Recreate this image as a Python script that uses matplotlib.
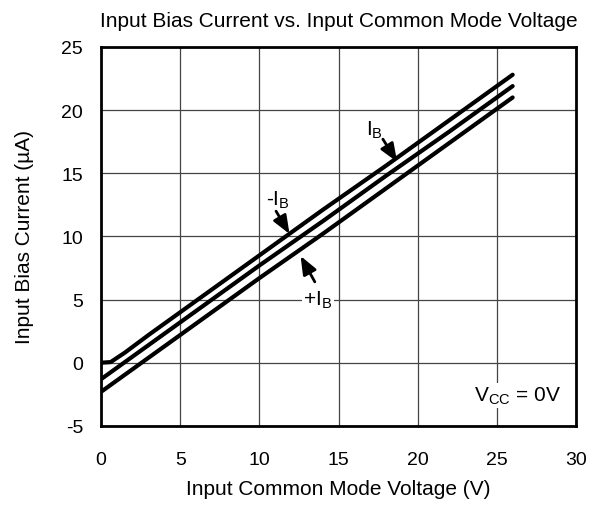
import matplotlib.pyplot as plt

plt.rcParams['font.family'] = ['Liberation Sans', 'DejaVu Sans']
plt.rcParams['axes.unicode_minus'] = False

# data
vcm_neg = [0, 0.6, 1.5, 3, 6, 10, 14, 18, 22, 26]
ib_neg = [0, 0.05, 0.8, 2.2, 4.9, 8.5, 12.1, 15.6, 19.2, 22.8]
vcm_mid = [0, 2, 6, 10, 14, 18, 22, 26]
ib_mid = [-1.3, 0.5, 4.1, 7.7, 11.2, 14.8, 18.3, 21.9]
vcm_pos = [0, 2, 6, 10, 14, 18, 22, 26]
ib_pos = [-2.3, -0.5, 3.1, 6.7, 10.2, 13.8, 17.4, 21.0]

fig = plt.figure(figsize=(5.95, 5.1), dpi=100)
ax = fig.add_axes([0.170, 0.163, 0.798, 0.743])

ax.plot(vcm_neg, ib_neg, color='black', lw=3, solid_capstyle='round', zorder=3)
ax.plot(vcm_mid, ib_mid, color='black', lw=3, solid_capstyle='round', zorder=3)
ax.plot(vcm_pos, ib_pos, color='black', lw=3, solid_capstyle='round', zorder=3)

ax.set_xlim(0, 30)
ax.set_ylim(-5, 25)
ax.set_xticks(range(0, 31, 5))
ax.set_yticks(range(-5, 26, 5))
ax.grid(True, color='#444444', lw=0.9)
for s in ax.spines.values():
    s.set_linewidth(2)
ax.tick_params(length=0, labelsize=14)
ax.tick_params(axis='x', pad=18)
ax.tick_params(axis='y', pad=13)

ax.set_title('Input Bias Current vs. Input Common Mode Voltage', fontsize=15, pad=15)
ax.set_xlabel('Input Common Mode Voltage (V)', fontsize=15, labelpad=8)
ax.set_ylabel('Input Bias Current (\u00b5A)', fontsize=15, labelpad=20)

arr = dict(arrowstyle='-|>,head_length=0.55,head_width=0.22', color='black', lw=2,
           mutation_scale=20, shrinkA=0, shrinkB=0)
box = dict(facecolor='white', edgecolor='none', pad=1)

# labels
ax.text(11.2, 12.9, '-I$\\mathregular{_B}$', fontsize=15, ha='center', va='center', bbox=box, zorder=4)
ax.text(17.3, 18.5, 'I$\\mathregular{_B}$', fontsize=15, ha='center', va='center', bbox=box, zorder=4)
ax.text(13.7, 5.0, '+I$\\mathregular{_B}$', fontsize=15, ha='center', va='center', bbox=box, zorder=4)
ax.text(26.3, -2.6, 'V$\\mathregular{_{CC}}$ = 0V', fontsize=15, ha='center', va='center',
        bbox=box, zorder=4)

# arrows
ax.annotate('', xy=(11.9, 10.2), xytext=(11.05, 12.0), arrowprops=arr, zorder=5)
ax.annotate('', xy=(18.7, 15.9), xytext=(17.8, 17.7), arrowprops=arr, zorder=5)
ax.annotate('', xy=(12.6, 8.45), xytext=(13.5, 6.4), arrowprops=arr, zorder=5)

fig.savefig('out.png', dpi=100)
